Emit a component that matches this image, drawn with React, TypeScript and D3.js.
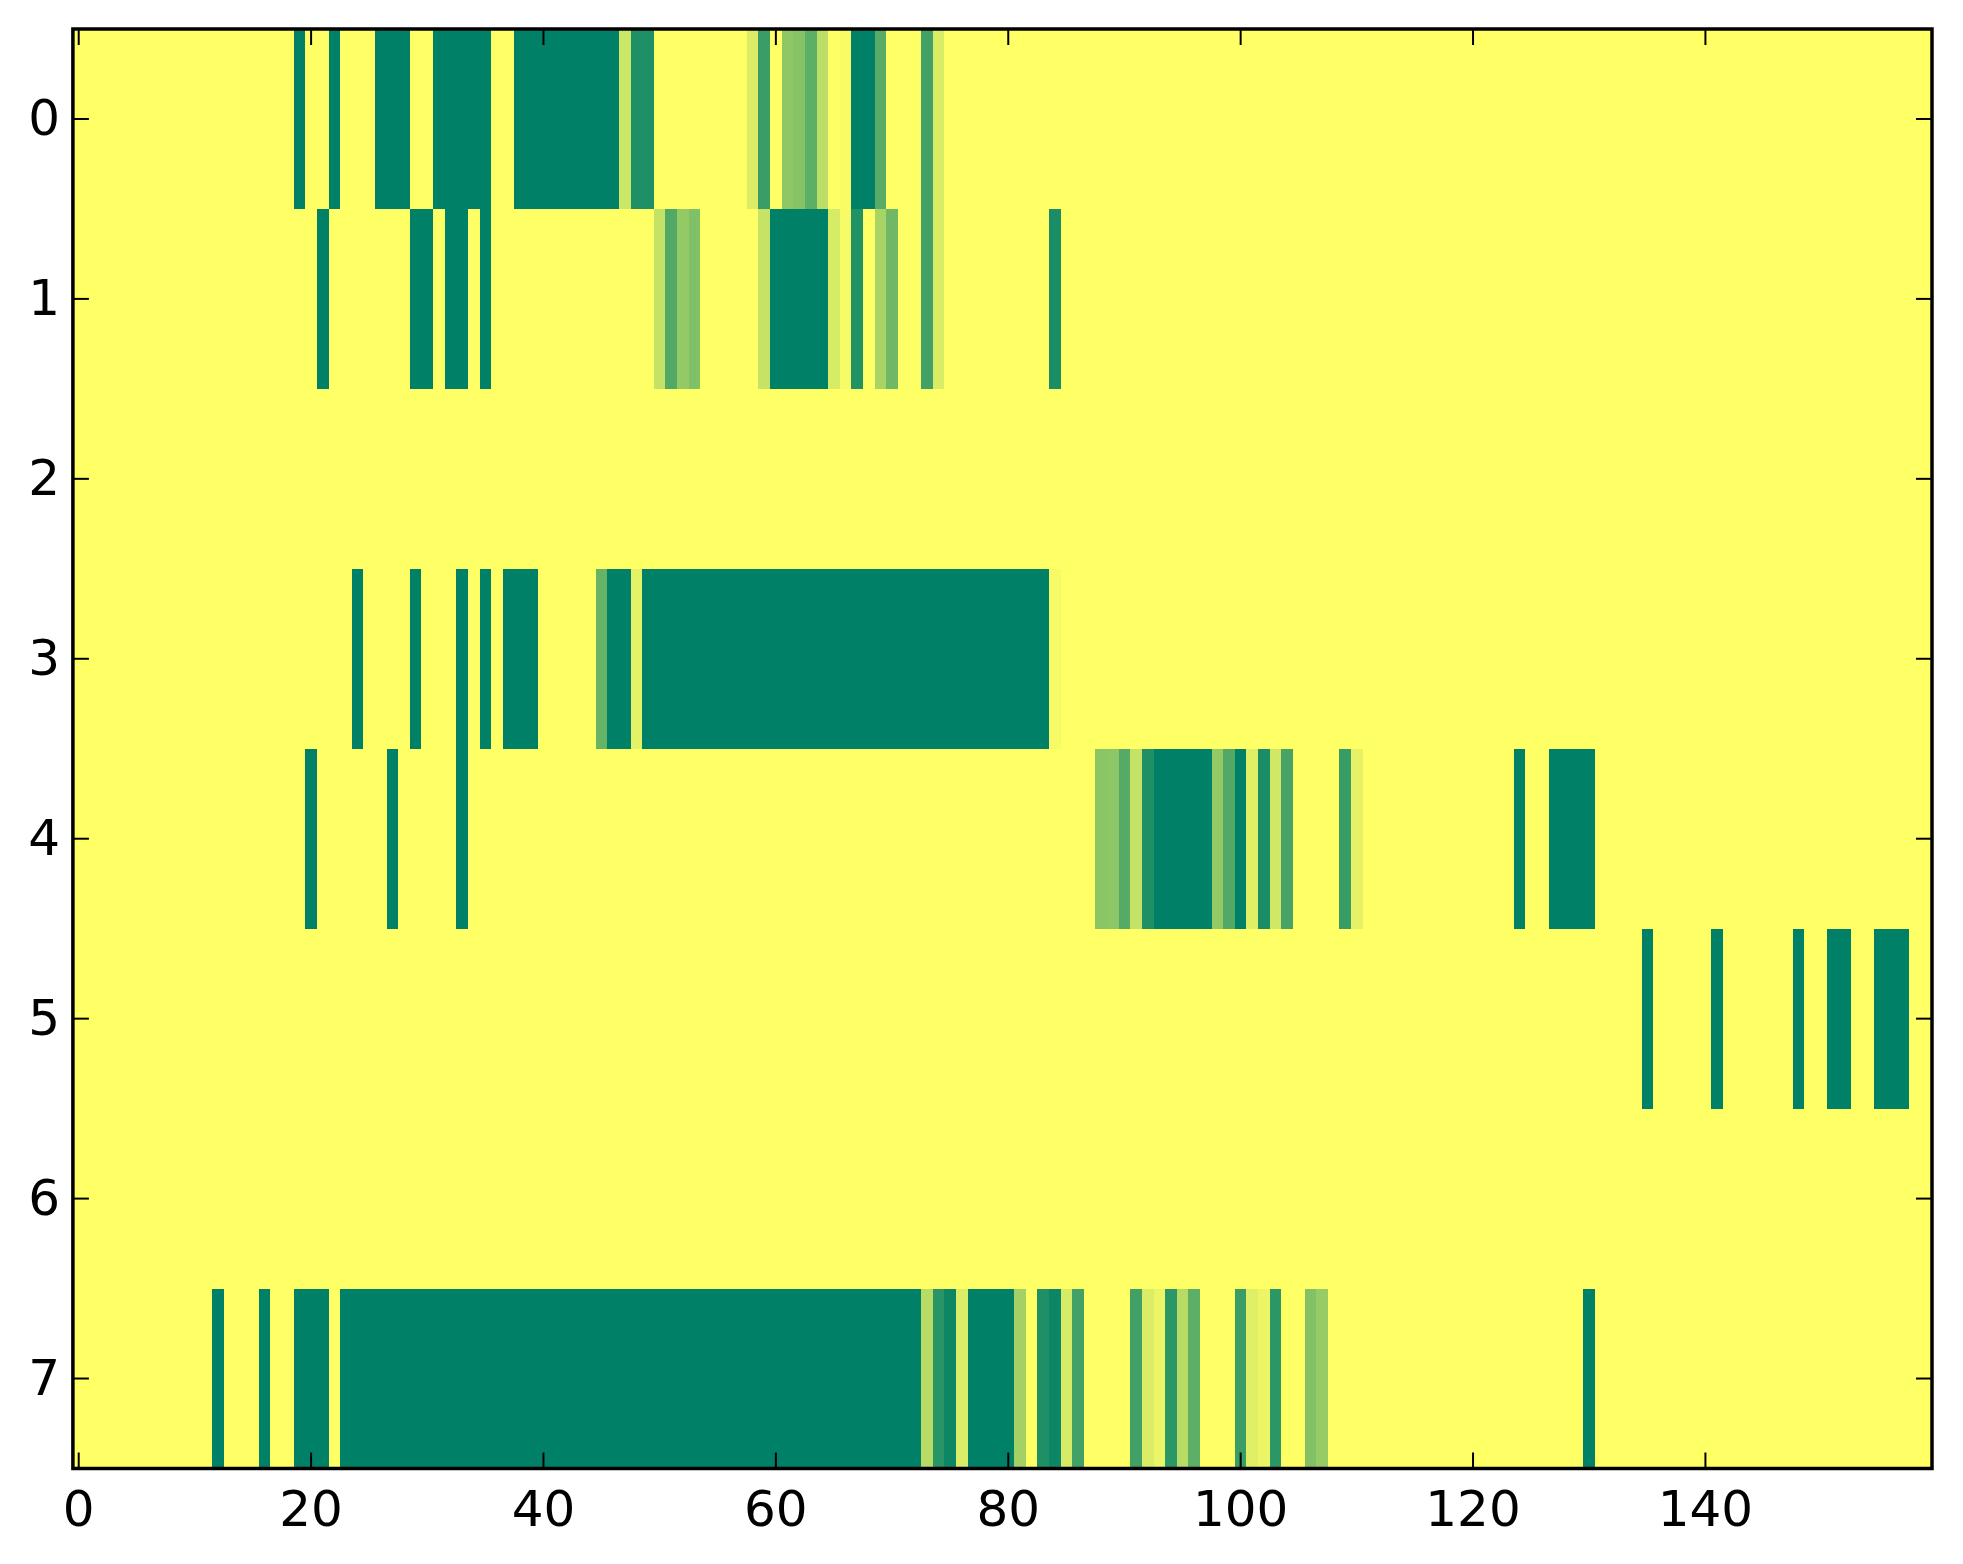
import React from 'react';
import * as d3 from 'd3';

// grid size: 8 rows (0..7), 160 columns (0..159)
const nRows = 8;
const nCols = 160;

// non-zero cells per row as [fromCol, toCol, value] runs
const row0: [number, number, number][] = [
    [19, 19, 1], [22, 22, 1], [26, 28, 1], [31, 35, 1], [38, 46, 1],
    [47, 47, 0.2], [48, 49, 0.88], [58, 58, 0.14], [59, 59, 0.77],
    [61, 61, 0.44], [62, 62, 0.47], [63, 63, 0.63], [64, 64, 0.26],
    [66, 66, 0.02], [67, 68, 1], [69, 69, 0.65], [73, 73, 0.74], [74, 74, 0.15],
];
const row1: [number, number, number][] = [
    [21, 21, 1], [29, 30, 1], [32, 33, 1], [35, 35, 1],
    [50, 50, 0.23], [51, 51, 0.68], [52, 52, 0.42], [53, 53, 0.5],
    [59, 59, 0.22], [60, 64, 1], [65, 65, 0.16], [66, 66, 0.03],
    [67, 67, 0.87], [69, 69, 0.34], [70, 70, 0.56], [73, 73, 0.74],
    [74, 74, 0.15], [84, 84, 0.9],
];
const row2: [number, number, number][] = [];
const row3: [number, number, number][] = [
    [24, 24, 1], [29, 29, 1], [33, 33, 1], [35, 35, 1], [37, 39, 1],
    [45, 45, 0.6], [46, 47, 1], [48, 48, 0.1], [49, 83, 1], [84, 84, 0.04],
];
const row4: [number, number, number][] = [
    [20, 20, 1], [27, 27, 1], [33, 33, 1],
    [88, 88, 0.46], [89, 89, 0.45], [90, 90, 0.67], [91, 91, 0.23],
    [92, 92, 0.88], [93, 97, 1], [98, 98, 0.42], [99, 99, 0.68],
    [100, 100, 1], [101, 101, 0.12], [102, 102, 0.9], [103, 103, 0.18],
    [104, 104, 0.72], [109, 109, 0.78], [110, 110, 0.1],
    [124, 124, 1], [127, 130, 1],
];
const row5: [number, number, number][] = [
    [135, 135, 1], [141, 141, 1], [148, 148, 1], [151, 152, 1], [155, 157, 1],
];
const row6: [number, number, number][] = [];
const row7: [number, number, number][] = [
    [12, 12, 1], [16, 16, 1], [19, 21, 1], [23, 72, 1],
    [73, 73, 0.28], [74, 74, 0.84], [75, 75, 0.95], [76, 76, 0.14],
    [77, 80, 1], [81, 81, 0.36], [83, 83, 0.88], [84, 84, 0.95],
    [85, 85, 0.16], [86, 86, 0.74], [91, 91, 0.75], [92, 92, 0.14],
    [93, 93, 0.08], [94, 94, 0.83], [95, 95, 0.28], [96, 96, 0.63],
    [100, 100, 0.77], [101, 101, 0.12], [102, 102, 0.08], [103, 103, 0.83],
    [106, 106, 0.49], [107, 107, 0.41], [130, 130, 1],
];
const rows = [row0, row1, row2, row3, row4, row5, row6, row7];

const xTicks = [0, 20, 40, 60, 80, 100, 120, 140];
const yTicks = [0, 1, 2, 3, 4, 5, 6, 7];

const W = 1963;
const H = 1564;
const plot = { left: 72.9, right: 1932, top: 29, bottom: 1468.5 };
const TICK = 16;
const FONT = '"DejaVu Sans", sans-serif';

// summer_r: 0 -> yellow, 1 -> green (linear in rgb)
const color = d3.scaleLinear<string>().domain([0, 1]).range(['#ffff66', '#008066']).interpolate(d3.interpolateRgb);

export default function App() {
    const x = d3.scaleLinear().domain([-0.5, nCols - 0.5]).range([plot.left, plot.right]);
    const y = d3.scaleLinear().domain([-0.5, nRows - 0.5]).range([plot.top, plot.bottom]);

    // expand runs into single cells
    const cells: { r: number; c: number; v: number }[] = [];
    rows.forEach((runs, r) => {
        runs.forEach(([a, b, v]) => {
            for (let c = a; c <= b; c++) cells.push({ r, c, v });
        });
    });

    return (
        <>
            <style>{'body{margin:0;background:#fff}'}</style>
            <svg width={W} height={H} style={{ display: 'block' }}>
                <rect x={plot.left} y={plot.top} width={plot.right - plot.left} height={plot.bottom - plot.top} fill={color(0)} />
                <g shapeRendering="crispEdges">
                    {cells.map(d => (
                        <rect
                            key={`${d.r}-${d.c}`}
                            x={x(d.c - 0.5)}
                            y={y(d.r - 0.5)}
                            width={x(d.c + 0.5) - x(d.c - 0.5)}
                            height={y(d.r + 0.5) - y(d.r - 0.5)}
                            fill={color(d.v)}
                        />
                    ))}
                </g>

                {/* ticks, inward on all four sides */}
                <g stroke="#000" strokeWidth={2}>
                    {xTicks.map(t => (
                        <g key={`xt${t}`}>
                            <line x1={x(t)} x2={x(t)} y1={plot.bottom} y2={plot.bottom - TICK} />
                            <line x1={x(t)} x2={x(t)} y1={plot.top} y2={plot.top + TICK} />
                        </g>
                    ))}
                    {yTicks.map(t => (
                        <g key={`yt${t}`}>
                            <line x1={plot.left} x2={plot.left + TICK} y1={y(t)} y2={y(t)} />
                            <line x1={plot.right} x2={plot.right - TICK} y1={y(t)} y2={y(t)} />
                        </g>
                    ))}
                </g>

                <rect x={plot.left} y={plot.top} width={plot.right - plot.left} height={plot.bottom - plot.top}
                    fill="none" stroke="#000" strokeWidth={3.5} />

                <g fontFamily={FONT} fontSize={50} fill="#000">
                    {xTicks.map(t => (
                        <text key={`xl${t}`} x={x(t)} y={1526} textAnchor="middle">{t}</text>
                    ))}
                    {yTicks.map(t => (
                        <text key={`yl${t}`} x={60} y={y(t) + 16.5} textAnchor="end">{t}</text>
                    ))}
                </g>
            </svg>
        </>
    );
}
